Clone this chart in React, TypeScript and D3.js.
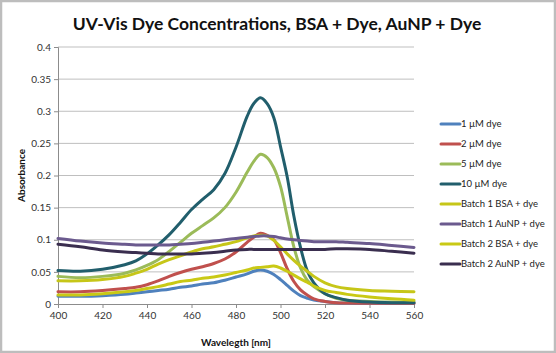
import { useEffect, useRef } from 'react'
import * as d3 from 'd3'

const WAVELENGTHS = [400, 410, 420, 430, 435, 440, 445, 450, 455, 460, 465, 470, 475, 480, 485, 488, 491, 494, 497, 500, 503, 506, 509, 512, 515, 520, 525, 530, 540, 550, 560]

const DYE_1UM  = [0.012, 0.012, 0.013, 0.015, 0.017, 0.019, 0.021, 0.023, 0.026, 0.028, 0.031, 0.033, 0.037, 0.042, 0.047, 0.051, 0.053, 0.051, 0.046, 0.038, 0.029, 0.020, 0.013, 0.009, 0.006, 0.004, 0.002, 0.0015, 0.001, 0.001, 0.001]
const DYE_2UM  = [0.019, 0.019, 0.021, 0.024, 0.026, 0.030, 0.036, 0.043, 0.049, 0.054, 0.058, 0.063, 0.070, 0.081, 0.096, 0.104, 0.110, 0.107, 0.100, 0.080, 0.055, 0.035, 0.022, 0.014, 0.008, 0.004, 0.002, 0.0015, 0.001, 0.001, 0.001]
const DYE_5UM  = [0.043, 0.041, 0.043, 0.048, 0.053, 0.060, 0.069, 0.082, 0.096, 0.110, 0.122, 0.134, 0.150, 0.174, 0.205, 0.222, 0.233, 0.228, 0.212, 0.183, 0.136, 0.089, 0.056, 0.037, 0.027, 0.016, 0.009, 0.006, 0.004, 0.003, 0.003]
const DYE_10UM = [0.052, 0.051, 0.054, 0.061, 0.067, 0.078, 0.092, 0.108, 0.127, 0.147, 0.163, 0.178, 0.203, 0.244, 0.292, 0.312, 0.321, 0.312, 0.290, 0.245, 0.198, 0.137, 0.088, 0.052, 0.033, 0.016, 0.010, 0.006, 0.003, 0.002, 0.002]
const BSA_B1   = [0.036, 0.036, 0.038, 0.043, 0.048, 0.054, 0.062, 0.069, 0.075, 0.081, 0.086, 0.089, 0.093, 0.097, 0.103, 0.106, 0.107, 0.106, 0.099, 0.089, 0.078, 0.068, 0.059, 0.051, 0.043, 0.033, 0.027, 0.024, 0.021, 0.020, 0.019]
const AUNP_B1  = [0.102, 0.098, 0.095, 0.093, 0.092, 0.092, 0.092, 0.092, 0.093, 0.094, 0.096, 0.098, 0.100, 0.102, 0.104, 0.105, 0.106, 0.106, 0.105, 0.103, 0.101, 0.100, 0.099, 0.098, 0.097, 0.097, 0.097, 0.096, 0.094, 0.091, 0.088]
const BSA_B2   = [0.014, 0.014, 0.016, 0.019, 0.021, 0.024, 0.027, 0.031, 0.035, 0.037, 0.040, 0.042, 0.045, 0.049, 0.053, 0.056, 0.057, 0.058, 0.059, 0.056, 0.051, 0.045, 0.039, 0.034, 0.028, 0.021, 0.018, 0.015, 0.011, 0.008, 0.006]
const AUNP_B2  = [0.093, 0.089, 0.084, 0.081, 0.080, 0.079, 0.078, 0.078, 0.078, 0.078, 0.079, 0.080, 0.082, 0.084, 0.085, 0.085, 0.085, 0.085, 0.085, 0.085, 0.085, 0.085, 0.085, 0.085, 0.085, 0.085, 0.086, 0.086, 0.085, 0.082, 0.079]

const SERIES = [
  { name: '1 µM dye',            values: DYE_1UM,  color: '#4F81BD' },
  { name: '2 µM dye',            values: DYE_2UM,  color: '#C0504D' },
  { name: '5 µM dye',            values: DYE_5UM,  color: '#9BBB59' },
  { name: '10 µM dye',           values: DYE_10UM, color: '#215E6C' },
  { name: 'Batch 1 BSA + dye',   values: BSA_B1,   color: '#C6C618' },
  { name: 'Batch 1 AuNP + dye',  values: AUNP_B1,  color: '#6B5A8E' },
  { name: 'Batch 2 BSA + dye',   values: BSA_B2,   color: '#C9C915' },
  { name: 'Batch 2 AuNP + dye',  values: AUNP_B2,  color: '#3A2E4F' },
]

const X_TICKS = [400, 420, 440, 460, 480, 500, 520, 540, 560]
const Y_TICKS = [0, 0.05, 0.1, 0.15, 0.2, 0.25, 0.3, 0.35, 0.4]

const FONT = 'Lato, "Open Sans", sans-serif'

export default function App() {
  const svgRef = useRef<SVGSVGElement>(null)

  useEffect(() => {
    if (!svgRef.current) return
    const W = 556, H = 353
    const margin = { top: 47, right: 142, bottom: 49, left: 58 }
    const w = W - margin.left - margin.right
    const h = H - margin.top - margin.bottom

    const svg = d3.select(svgRef.current)
    svg.selectAll('*').remove()
    svg.attr('width', W).attr('height', H)

    // outer frame
    svg.append('rect')
      .attr('x', 1).attr('y', 1).attr('width', W - 2).attr('height', H - 2)
      .attr('fill', '#fff').attr('stroke', '#BDBDBD').attr('stroke-width', 2.5)

    svg.append('text')
      .attr('x', 277).attr('y', 30)
      .attr('text-anchor', 'middle')
      .attr('font-family', FONT).attr('font-weight', 700).attr('font-size', '17.5px')
      .attr('fill', '#111')
      .text('UV-Vis Dye Concentrations, BSA + Dye, AuNP + Dye')

    const g = svg.append('g').attr('transform', `translate(${margin.left},${margin.top})`)

    const x = d3.scaleLinear().domain([400, 560]).range([0, w])
    const y = d3.scaleLinear().domain([0, 0.4]).range([h, 0])

    // Grid
    g.append('g').selectAll('line')
      .data(Y_TICKS.filter(t => t > 0)).enter().append('line')
      .attr('x1', 0).attr('x2', w)
      .attr('y1', d => y(d)).attr('y2', d => y(d))
      .attr('stroke', '#BFBFBF').attr('stroke-width', 1)

    // Y axis
    g.append('g')
      .call(d3.axisLeft(y).tickValues(Y_TICKS).tickSize(4).tickPadding(3).tickFormat(d => String(+d)))
      .call(ax => ax.select('.domain').attr('stroke', '#8C8C8C'))
      .call(ax => ax.selectAll('.tick line').attr('stroke', '#8C8C8C'))
      .call(ax => ax.selectAll('text').attr('fill', '#333').attr('font-size', '10px').attr('font-family', FONT))

    // X axis
    g.append('g').attr('transform', `translate(0,${h})`)
      .call(d3.axisBottom(x).tickValues(X_TICKS).tickSize(4).tickPadding(4).tickFormat(d => String(d)))
      .call(ax => ax.select('.domain').attr('stroke', '#8C8C8C'))
      .call(ax => ax.selectAll('.tick line').attr('stroke', '#8C8C8C'))
      .call(ax => ax.selectAll('text').attr('fill', '#333').attr('font-size', '10px').attr('font-family', FONT))

    // Axis titles
    svg.append('text')
      .attr('x', margin.left + w / 2).attr('y', 346)
      .attr('text-anchor', 'middle')
      .attr('font-family', FONT).attr('font-weight', 700).attr('font-size', '10px').attr('fill', '#111')
      .text('Wavelegth [nm]')

    svg.append('text')
      .attr('transform', `translate(25,${margin.top + h / 2}) rotate(-90)`)
      .attr('text-anchor', 'middle')
      .attr('font-family', FONT).attr('font-weight', 700).attr('font-size', '10px').attr('fill', '#111')
      .text('Absorbance')

    // Lines
    const line = d3.line<number>()
      .x((_, i) => x(WAVELENGTHS[i]))
      .y(d => y(d))
      .curve(d3.curveCatmullRom.alpha(0.5))

    SERIES.forEach(s => {
      g.append('path')
        .attr('d', line(s.values))
        .attr('fill', 'none')
        .attr('stroke', s.color)
        .attr('stroke-width', 3)
        .attr('stroke-linejoin', 'round')
        .attr('stroke-linecap', 'round')
    })

    // Legend
    const lg = svg.append('g').attr('transform', 'translate(441,124)')
    SERIES.forEach((s, i) => {
      const row = lg.append('g').attr('transform', `translate(0,${i * 20})`)
      row.append('line')
        .attr('x1', 0).attr('x2', 19).attr('y1', 0).attr('y2', 0)
        .attr('stroke', s.color).attr('stroke-width', 3).attr('stroke-linecap', 'round')
      row.append('text')
        .attr('x', 20).attr('y', 0).attr('dy', '0.35em')
        .attr('font-family', FONT).attr('font-size', '9.5px').attr('fill', '#222')
        .text(s.name)
    })
  }, [])

  return (
    <svg ref={svgRef} style={{ position: 'absolute', left: 0, top: 0, display: 'block' }} />
  )
}
